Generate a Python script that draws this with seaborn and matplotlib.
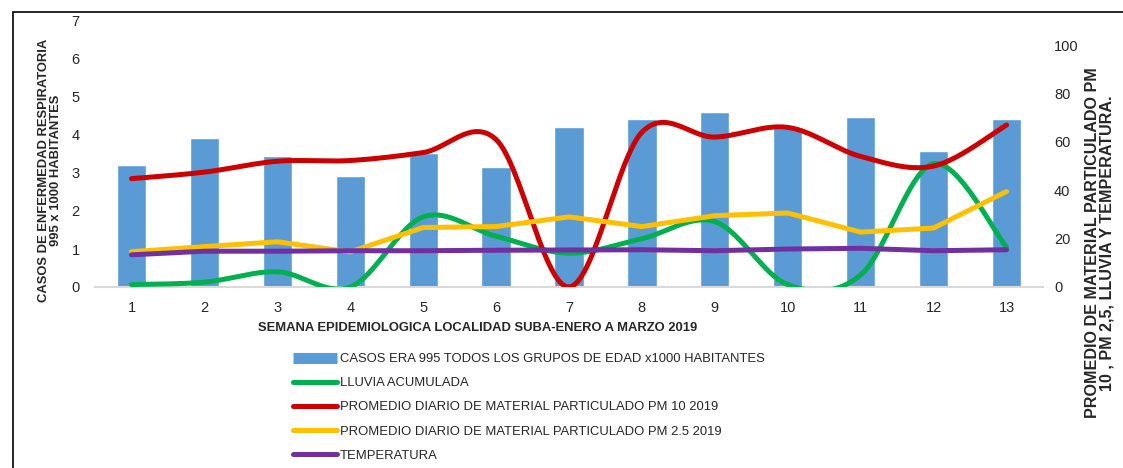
import numpy as np
import pandas as pd
import matplotlib
matplotlib.use("Agg")
import matplotlib.pyplot as plt
import seaborn as sns
from matplotlib.lines import Line2D
from matplotlib.patches import Rectangle

# Data
semanas = ["1", "2", "3", "4", "5", "6", "7", "8", "9", "10", "11", "12", "13"]
casos = [3.2, 3.93, 3.45, 2.92, 3.53, 3.16, 4.21, 4.42, 4.6, 4.18, 4.47, 3.58, 4.42]
lluvia = [1, 2, 6.3, 0, 29, 21, 14, 20, 27, 1, 5, 51, 16.5]
pm10 = [44.8, 47.5, 52, 52.3, 55.6, 61, 0, 64, 62, 66, 54, 50, 67]
pm25 = [14.6, 16.7, 18.7, 14.5, 24.6, 25, 29, 25, 29.5, 30.6, 22.7, 24.4, 39.5]
temperatura = [13.3, 14.8, 14.8, 15, 15, 15.2, 15.3, 15.4, 15, 15.7, 16, 15, 15.4]

AZUL = "#5B9BD5"
VERDE = "#00B050"
ROJO = "#CC0000"
AMARILLO = "#FFC000"
MORADO = "#7030A0"
FS = 9.4


def suavizar(y, n=30):
    # Excel style smoothed line (Bezier through the points, Catmull-Rom tangents)
    y = np.asarray(y, dtype=float)
    x = np.arange(len(y), dtype=float)
    xs, ys = [], []
    t = np.linspace(0, 1, n)
    for i in range(len(y) - 1):
        y0 = y[i - 1] if i > 0 else y[i]
        y3 = y[i + 2] if i + 2 < len(y) else y[i + 1]
        x0 = x[i - 1] if i > 0 else x[i]
        x3 = x[i + 2] if i + 2 < len(y) else x[i + 1]
        c1x, c1y = x[i] + (x[i + 1] - x0) / 6, y[i] + (y[i + 1] - y0) / 6
        c2x, c2y = x[i + 1] - (x3 - x[i]) / 6, y[i + 1] - (y3 - y[i]) / 6
        bx = (1 - t) ** 3 * x[i] + 3 * (1 - t) ** 2 * t * c1x + 3 * (1 - t) * t ** 2 * c2x + t ** 3 * x[i + 1]
        by = (1 - t) ** 3 * y[i] + 3 * (1 - t) ** 2 * t * c1y + 3 * (1 - t) * t ** 2 * c2y + t ** 3 * y[i + 1]
        xs.extend(bx)
        ys.extend(by)
    return np.array(xs), np.array(ys)


sns.set_style("white")
plt.rcParams["font.family"] = ["Liberation Sans", "DejaVu Sans"]
plt.rcParams["font.size"] = FS

df = pd.DataFrame({"semana": semanas, "casos": casos})

fig = plt.figure(figsize=(11.23, 4.68), dpi=100)
ax = fig.add_axes([95 / 1123, 1 - 287 / 468, (1043 - 95) / 1123, (287 - 21) / 468])

sns.barplot(data=df, x="semana", y="casos", color=AZUL, width=0.4, saturation=1, ax=ax)
ax.set_ylim(0, 7)
ax.set_xlim(-0.5, 12.5)
ax.set_yticks(range(0, 8))
ax.set_ylabel("CASOS DE ENFERMEDAD RESPIRATORIA\n995 x 1000 HABITANTES", fontweight="bold", fontsize=FS,
              linespacing=1.0)
ax.yaxis.set_label_coords(-0.035, 0.44)
ax.set_xlabel("SEMANA EPIDEMIOLOGICA LOCALIDAD SUBA-ENERO A MARZO 2019", fontweight="bold", fontsize=FS)
ax.xaxis.set_label_coords(0.404, -0.13)
ax.tick_params(axis="both", length=0, labelsize=10.5)
ax.tick_params(axis="y", pad=11)
ax.tick_params(axis="x", pad=10)
for s in ["left", "right", "top"]:
    ax.spines[s].set_visible(False)
ax.spines["bottom"].set_color("#D9D9D9")
ax.spines["bottom"].set_linewidth(1.5)

ax2 = ax.twinx()
pos = np.arange(len(semanas))
gx, gy = suavizar(lluvia)
rx, ry = suavizar(pm10)
sns.lineplot(x=gx, y=gy, color=VERDE, lw=3.6, sort=False, ax=ax2)
sns.lineplot(x=rx, y=ry, color=ROJO, lw=3.6, sort=False, ax=ax2)
sns.lineplot(x=pos, y=pm25, color=AMARILLO, lw=3.6, ax=ax2)
sns.lineplot(x=pos, y=temperatura, color=MORADO, lw=3.6, ax=ax2)
for l in ax2.lines:
    l.set_solid_capstyle("round")
    l.set_solid_joinstyle("round")
ax2.set_ylim(0, 110)
ax2.set_xlim(-0.5, 12.5)
ax2.set_yticks(range(0, 101, 20))
ax2.tick_params(axis="y", length=0, labelsize=10.5, pad=8)
ax2.set_ylabel("PROMEDIO DE MATERIAL PARTICULADO PM\n10 , PM 2,5, LLUVIA Y TEMPERATURA.", fontweight="bold",
               fontsize=11.6, linespacing=0.95)
ax2.yaxis.set_label_coords(1.044, 0.165)
for s in ["left", "right", "top", "bottom"]:
    ax2.spines[s].set_visible(False)

handles = [
    Line2D([0], [0], color=AZUL, lw=8, solid_capstyle="butt"),
    Line2D([0], [0], color=VERDE, lw=3.6, solid_capstyle="round"),
    Line2D([0], [0], color=ROJO, lw=3.6, solid_capstyle="round"),
    Line2D([0], [0], color=AMARILLO, lw=3.6, solid_capstyle="round"),
    Line2D([0], [0], color=MORADO, lw=3.6, solid_capstyle="round"),
]
labels = [
    "CASOS ERA 995 TODOS LOS GRUPOS DE EDAD x1000 HABITANTES",
    "LLUVIA ACUMULADA",
    "PROMEDIO DIARIO DE MATERIAL PARTICULADO PM 10 2019",
    "PROMEDIO DIARIO DE MATERIAL PARTICULADO PM 2.5 2019",
    "TEMPERATURA",
]
fig.legend(handles, labels, loc="upper left", bbox_to_anchor=(293 / 1123, 1 - 353 / 468),
           frameon=False, fontsize=FS, handlelength=3.4, handletextpad=0.2,
           labelspacing=0.92, borderaxespad=0, borderpad=0)

# outer frame of the chart area
fig.patches.append(Rectangle((13 / 1123, -0.1), 1.2, 1.1 - 12 / 468, transform=fig.transFigure,
                             fill=False, edgecolor="black", lw=1.2))

fig.savefig("out.png", dpi=100)
